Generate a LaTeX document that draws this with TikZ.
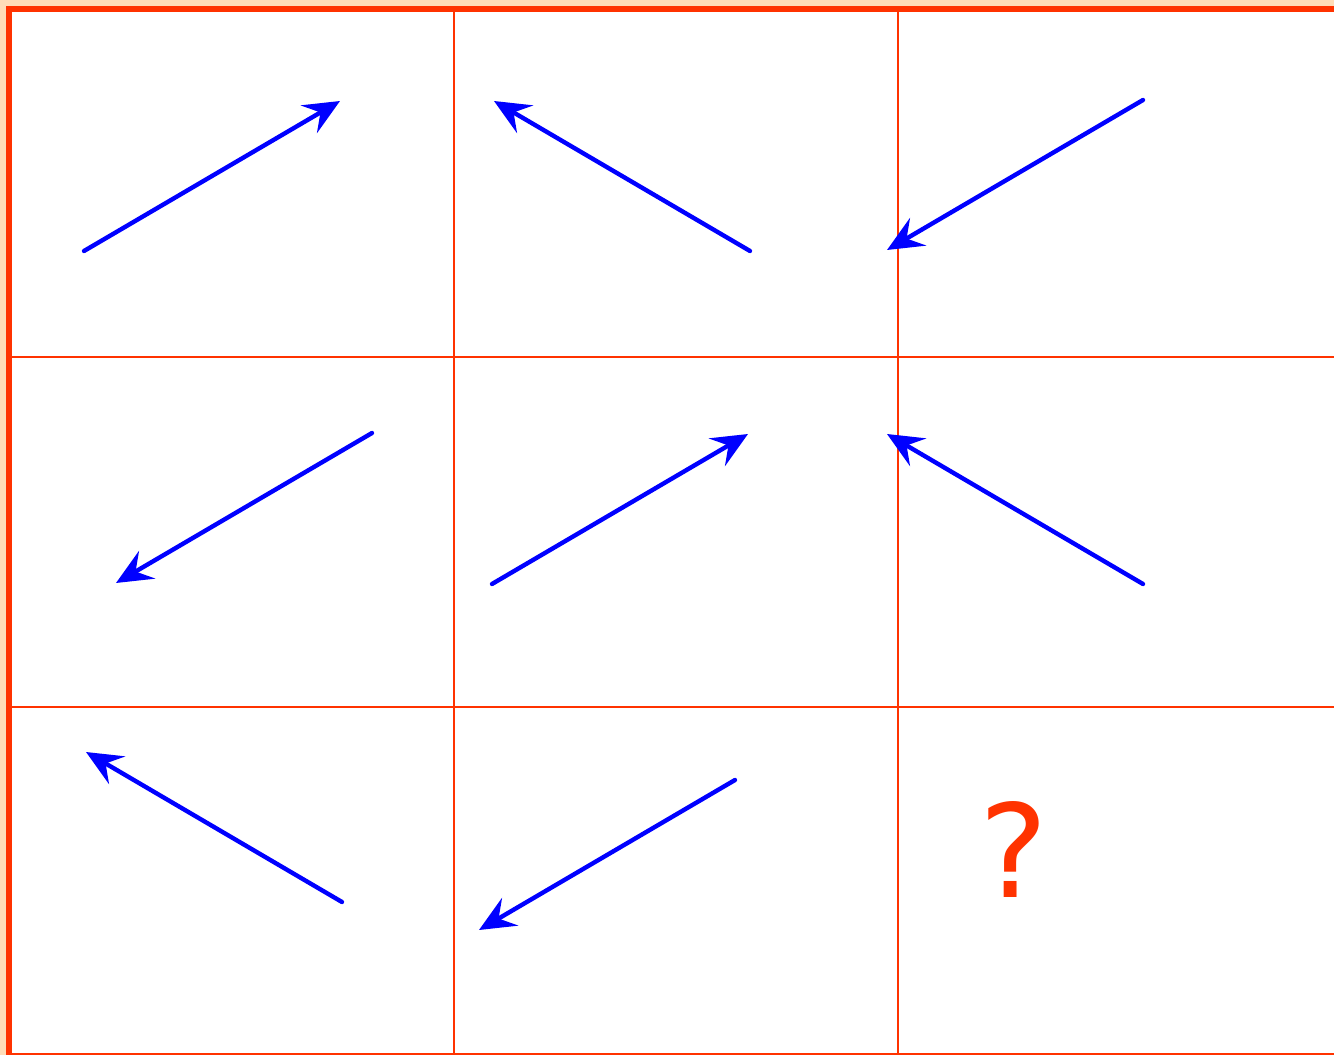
\documentclass[tikz,border=0pt]{standalone}
\usepackage{fontspec}
\setmainfont{DejaVu Sans}
\usetikzlibrary{arrows.meta}
\definecolor{peach}{RGB}{255,221,184}
\definecolor{gridred}{RGB}{255,51,0}
\definecolor{arrowblue}{RGB}{0,0,255}
\begin{document}
\begin{tikzpicture}[x=0.75pt,y=-0.75pt,
  gridline/.style={draw=gridred,line width=1.5pt},
  frameline/.style={draw=gridred,line width=4.5pt},
  vec/.style={draw=arrowblue,line width=3.3pt,line cap=round,
    -{Stealth[length=27pt,width=24pt,inset=10pt]}},
  qmark/.style={text=gridred,font=\fontsize{97}{97}\selectfont,inner sep=0pt}]
\useasboundingbox (0,0) rectangle (1334,1055);
\begin{scope}
\clip (0,0) rectangle (1334,1055);
\fill[peach] (0,0) rectangle (1334,1055);
\fill[white] (6,6) rectangle (1400,1100);
% grid
\draw[gridline] (454,9) -- (454,1060);
\draw[gridline] (898,9) -- (898,1060);
\draw[gridline] (9,357) -- (1400,357);
\draw[gridline] (9,707) -- (1400,707);
\draw[gridline] (9,1053.5) -- (1400,1053.5);
\draw[frameline] (9,1060) -- (9,9) -- (1400,9);
\end{scope}
% arrow endpoints
\coordinate (a1s) at (84,251);   \coordinate (a1e) at (340,101);
\coordinate (a2s) at (750,251);  \coordinate (a2e) at (494,101);
\coordinate (a3s) at (1143,100); \coordinate (a3e) at (887,250);
\coordinate (b1s) at (372,433);  \coordinate (b1e) at (116,583);
\coordinate (b2s) at (492,584);  \coordinate (b2e) at (748,434);
\coordinate (b3s) at (1143,584); \coordinate (b3e) at (887,434);
\coordinate (c1s) at (342,902);  \coordinate (c1e) at (86,752);
\coordinate (c2s) at (735,780);  \coordinate (c2e) at (479,930);
\draw[vec] (a1s) -- (a1e);
\draw[vec] (a2s) -- (a2e);
\draw[vec] (a3s) -- (a3e);
\draw[vec] (b1s) -- (b1e);
\draw[vec] (b2s) -- (b2e);
\draw[vec] (b3s) -- (b3e);
\draw[vec] (c1s) -- (c1e);
\draw[vec] (c2s) -- (c2e);
\node[qmark,anchor=base] (q) at (1014,897) {?};
\end{tikzpicture}
\end{document}
